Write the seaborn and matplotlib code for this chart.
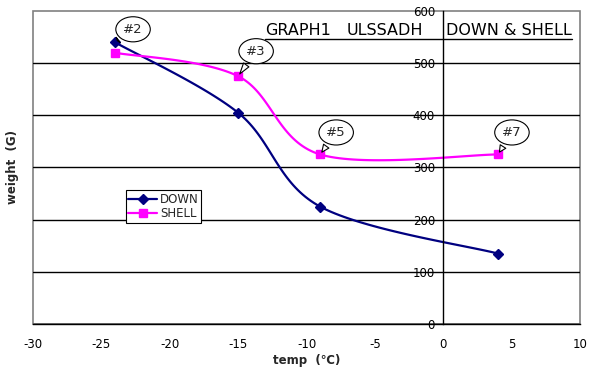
import numpy as np
import matplotlib
matplotlib.use("Agg")
import matplotlib.pyplot as plt
from matplotlib.lines import Line2D
from matplotlib.transforms import IdentityTransform
import seaborn as sns

# data
temp = [-24, -15, -9, 4]
down = [540, 405, 225, 135]
shell = [520, 475, 325, 325]
labels = ["#2", "#3", "#5", "#7"]
xticks = [-30, -25, -20, -15, -10, -5, 0, 5, 10]
yticks = [0, 100, 200, 300, 400, 500, 600]
title_words = ["GRAPH1", "ULSSADH", "DOWN & SHELL"]


def smooth(xs, ys, n=40):
    # Excel-style smoothed line: Catmull-Rom as cubic Bezier segments
    p = np.column_stack([xs, ys]).astype(float)
    ext = np.vstack([p[0], p, p[-1]])
    out = []
    t = np.linspace(0, 1, n)[:, None]
    for i in range(len(p) - 1):
        p0, p3 = ext[i + 1], ext[i + 2]
        c1 = p0 + (ext[i + 2] - ext[i]) / 6
        c2 = p3 - (ext[i + 3] - ext[i + 1]) / 6
        seg = ((1 - t) ** 3) * p0 + 3 * ((1 - t) ** 2) * t * c1 + 3 * (1 - t) * t ** 2 * c2 + t ** 3 * p3
        out.append(seg if i == 0 else seg[1:])
    out = np.vstack(out)
    return out[:, 0], out[:, 1]


sns.set_theme(style="white")
plt.rcParams["font.family"] = ["DejaVu Sans"]
plt.rcParams["axes.unicode_minus"] = False

fig = plt.figure(figsize=(6.03, 3.72), dpi=100)
ax = fig.add_axes([33 / 603, 48 / 372, 547 / 603, 313 / 372])

navy = "#000080"
magenta = "#FF00FF"

sx, sy = smooth(temp, down)
sns.lineplot(x=sx, y=sy, ax=ax, color=navy, lw=1.6, sort=False, estimator=None)
sx, sy = smooth(temp, shell)
sns.lineplot(x=sx, y=sy, ax=ax, color=magenta, lw=1.6, sort=False, estimator=None)
ax.plot(temp, down, ls="none", marker="D", ms=5.5, color=navy, zorder=5)
ax.plot(temp, shell, ls="none", marker="s", ms=6, color=magenta, zorder=5)

ax.set_xlim(-30, 10)
ax.set_ylim(0, 600)
ax.set_xticks(xticks)
ax.set_yticks(yticks)

# frame and axes crossing at x=0
ax.patch.set_edgecolor("#808080")
ax.patch.set_linewidth(1.2)
for s in ["top", "right"]:
    ax.spines[s].set_visible(False)
ax.spines["left"].set_position(("data", 0))
ax.spines["left"].set_color("black")
ax.spines["bottom"].set_color("black")
ax.spines["left"].set_linewidth(1)
ax.spines["bottom"].set_linewidth(1)

ax.grid(axis="y", color="black", lw=1)
ax.yaxis.get_gridlines()[-1].set_visible(False)
ax.tick_params(axis="both", direction="out", length=4, width=1, color="black",
               labelsize=8.5, labelcolor="black", pad=2)
ax.tick_params(axis="x", pad=6)

ax.set_xlabel("temp  (℃)", fontsize=8.5, fontweight="bold")
ax.set_ylabel("weight  (G)", fontsize=8.5, fontweight="bold")
ax.xaxis.set_label_coords(0.5, -0.095)
ax.yaxis.set_label_coords(-0.026, 0.5)

# callout bubbles
offsets = [(18, 13), (18, 25), (16, 22), (14, 22)]
for x, y, lab, off in zip(temp, shell, labels, offsets):
    yy = down[0] if lab == "#2" else y
    ax.annotate(lab, xy=(x, yy), xytext=off, textcoords="offset pixels",
                ha="center", va="center", fontsize=9.5, zorder=6,
                bbox=dict(boxstyle="ellipse,pad=0.18", fc="white", ec="black", lw=0.8),
                arrowprops=dict(arrowstyle="wedge,tail_width=0.5,shrink_factor=0.5",
                                fc="white", ec="black", lw=0.8))

# title words with underline
title_x = [0.424, 0.574, 0.755]
texts = [ax.text(tx, 0.922, w, transform=ax.transAxes, fontsize=11.5, ha="left",
                 va="baseline", color="black")
         for tx, w in zip(title_x, title_words)]

handles = [Line2D([], [], color=navy, lw=1.6, marker="D", ms=5),
           Line2D([], [], color=magenta, lw=1.6, marker="s", ms=5.5)]
leg = ax.legend(handles, ["DOWN", "SHELL"], loc="upper left", bbox_to_anchor=(0.17, 0.427),
                fontsize=8.5, frameon=True, fancybox=False, framealpha=1, edgecolor="black",
                borderpad=0.2, handlelength=2.4, handletextpad=0.3, labelspacing=0.15,
                borderaxespad=0)
leg.get_frame().set_linewidth(0.8)

fig.canvas.draw()
b0 = texts[0].get_window_extent()
b1 = texts[-1].get_window_extent()
fig.add_artist(Line2D([b0.x0, b1.x1], [b0.y0 - 1, b0.y0 - 1], transform=IdentityTransform(),
                      color="black", lw=1))

fig.savefig("out.png", dpi=100)
